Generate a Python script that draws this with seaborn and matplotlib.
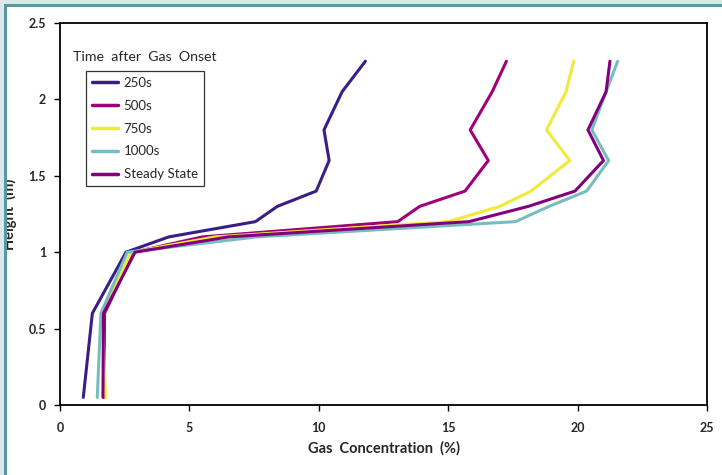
import numpy as np
import pandas as pd
import matplotlib
matplotlib.use("Agg")
import matplotlib.pyplot as plt
import seaborn as sns
from matplotlib.patches import Rectangle
from matplotlib.lines import Line2D

heights = [0.05, 0.6, 1.0, 1.1, 1.2, 1.3, 1.4, 1.6, 1.8, 2.05, 2.25]
conc_250 = [0.90, 1.25, 2.55, 4.2, 7.55, 8.4, 9.9, 10.4, 10.2, 10.9, 11.8]
conc_500 = [1.70, 1.72, 2.85, 5.5, 13.05, 13.9, 15.65, 16.55, 15.85, 16.7, 17.25]
conc_750 = [1.76, 1.63, 2.75, 6.0, 15.0, 17.0, 18.2, 19.7, 18.8, 19.55, 19.85]
conc_1000 = [1.44, 1.58, 2.6, 7.6, 17.6, 18.9, 20.35, 21.2, 20.55, 21.1, 21.55]
conc_ss = [1.66, 1.68, 2.9, 6.5, 15.8, 18.1, 19.9, 21.0, 20.4, 21.1, 21.25]

series_names = ["250s", "500s", "750s", "1000s", "Steady State"]
series_values = [conc_250, conc_500, conc_750, conc_1000, conc_ss]
colors = ["#3B1D86", "#A00078", "#F0EA3C", "#78BDBE", "#82007E"]

rows = []
for name, vals in zip(series_names, series_values):
    for i, (h, c) in enumerate(zip(heights, vals)):
        rows.append({"series": name, "order": i, "Height": h, "Conc": c})
df = pd.DataFrame(rows)

sns.set_theme(style="white")
plt.rcParams['font.family'] = ['Lato', 'DejaVu Sans']

fig = plt.figure(figsize=(7.22, 4.75), dpi=100)
fig.patch.set_facecolor("white")
ax = fig.add_axes([60/722, 1-405/475, (707-60)/722, (405-23)/475])

palette = dict(zip(series_names, colors))
sns.lineplot(data=df, x="Conc", y="Height", hue="series", hue_order=series_names,
             palette=palette, sort=False, estimator=None, units="series",
             linewidth=2.2, ax=ax, legend=False)

ax.set_xlim(0, 25)
ax.set_ylim(0, 2.5)
ax.set_xticks([0, 5, 10, 15, 20, 25])
ax.set_xticklabels(["0", "5", "10", "15", "20", "25"])
ax.set_yticks([0, 0.5, 1, 1.5, 2, 2.5])
ax.set_yticklabels(["0", "0.5", "1", "1.5", "2", "2.5"])
for s in ax.spines.values():
    s.set_color("black")
    s.set_linewidth(1.3)
ax.tick_params(axis="both", which="both", direction="out", length=4, width=1,
               color="black", labelsize=9, left=True, bottom=True)
ax.tick_params(axis="x", pad=8)
ax.tick_params(axis="y", pad=6)
for lab in ax.get_xticklabels() + ax.get_yticklabels():
    lab.set_fontweight("bold")
ax.set_xlabel("Gas  Concentration  (%)", fontsize=10.5, fontweight="bold", labelpad=5)
ax.set_ylabel("Height  (m)", fontsize=10.5, fontweight="bold")
ax.yaxis.set_label_coords(-0.066, 0.5)

handles = [Line2D([0], [0], color=c, lw=2.5) for c in colors]
leg = ax.legend(handles, series_names, loc="upper left",
                bbox_to_anchor=((86-60)/647, (405-71)/382),
                frameon=True, fancybox=False, fontsize=9.5,
                handlelength=2.0, handletextpad=0.4, labelspacing=0.82,
                borderpad=0.45, borderaxespad=0)
leg.get_frame().set_edgecolor("black")
leg.get_frame().set_linewidth(0.9)
fig.text(73/722, 1-57/475, "Time  after  Gas  Onset", fontsize=10.2, va="center", ha="left")

# cropped frame border (left and top)
fig.patches.append(Rectangle((0, 0), 4/722, 1, transform=fig.transFigure,
                             facecolor="#DCE7EA", edgecolor="none", zorder=10))
fig.patches.append(Rectangle((4/722, 0), 3/722, 1-4/475, transform=fig.transFigure,
                             facecolor="#5B979E", edgecolor="none", zorder=11))
fig.patches.append(Rectangle((0, 1-4/475), 1, 4/475, transform=fig.transFigure,
                             facecolor="#DCE7EA", edgecolor="none", zorder=10))
fig.patches.append(Rectangle((4/722, 1-7/475), 1, 3/475, transform=fig.transFigure,
                             facecolor="#5B979E", edgecolor="none", zorder=11))

fig.savefig("out.png", dpi=100)
